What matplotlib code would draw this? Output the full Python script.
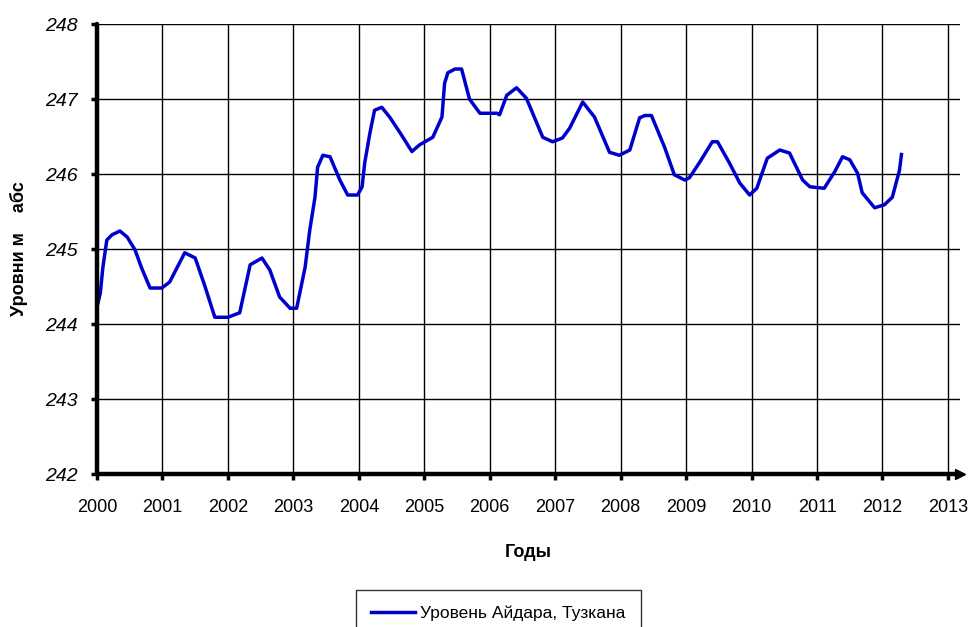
import matplotlib.pyplot as plt

plt.rcParams['font.family'] = ['Liberation Sans', 'DejaVu Sans']

# уровень воды по годам
years = [2000.00, 2000.05, 2000.09, 2000.15, 2000.23, 2000.35, 2000.46, 2000.58,
         2000.68, 2000.81, 2000.99, 2001.11, 2001.34, 2001.50, 2001.65, 2001.80,
         2002.00, 2002.18, 2002.34, 2002.52, 2002.64, 2002.79, 2002.95, 2003.05,
         2003.18, 2003.25, 2003.33, 2003.37, 2003.45, 2003.56, 2003.71, 2003.83,
         2003.98, 2004.05, 2004.09, 2004.17, 2004.24, 2004.35, 2004.47, 2004.63,
         2004.81, 2004.93, 2005.13, 2005.27, 2005.31, 2005.36, 2005.47, 2005.57,
         2005.69, 2005.85, 2006.11, 2006.15, 2006.26, 2006.41, 2006.56, 2006.81,
         2006.96, 2007.11, 2007.22, 2007.42, 2007.60, 2007.83, 2007.98, 2008.14,
         2008.29, 2008.37, 2008.47, 2008.67, 2008.82, 2008.98, 2009.05, 2009.21,
         2009.40, 2009.48, 2009.66, 2009.82, 2009.97, 2010.08, 2010.24, 2010.43,
         2010.58, 2010.78, 2010.89, 2011.11, 2011.27, 2011.39, 2011.50, 2011.62,
         2011.69, 2011.88, 2012.03, 2012.15, 2012.26, 2012.29]
levels = [244.23, 244.41, 244.76, 245.12, 245.19, 245.24, 245.16, 244.99,
          244.75, 244.48, 244.48, 244.56, 244.95, 244.88, 244.50, 244.09,
          244.09, 244.15, 244.79, 244.88, 244.72, 244.36, 244.21, 244.21,
          244.76, 245.25, 245.69, 246.09, 246.25, 246.23, 245.92, 245.72,
          245.72, 245.83, 246.15, 246.55, 246.85, 246.89, 246.76, 246.55,
          246.30, 246.39, 246.49, 246.76, 247.21, 247.35, 247.40, 247.40,
          247.00, 246.81, 246.81, 246.79, 247.05, 247.15, 247.01, 246.49,
          246.43, 246.48, 246.61, 246.96, 246.76, 246.29, 246.25, 246.32,
          246.75, 246.78, 246.78, 246.36, 245.99, 245.92, 245.95, 246.16,
          246.43, 246.43, 246.15, 245.88, 245.72, 245.81, 246.21, 246.32,
          246.28, 245.92, 245.83, 245.81, 246.03, 246.23, 246.19, 246.01,
          245.75, 245.55, 245.59, 245.69, 246.05, 246.26]

x_ticks = list(range(2000, 2014))
y_ticks = list(range(242, 249))

fig = plt.figure(figsize=(9.77, 6.27), dpi=100)
ax = fig.add_axes([0.0993, 0.244, 0.883, 0.7177])

line, = ax.plot(years, levels, color='#0000CC', linewidth=2.5,
                label='Уровень Айдара, Тузкана', solid_joinstyle='round')

ax.set_xlim(2000, 2013.18)
ax.set_ylim(242, 248)
ax.set_xticks(x_ticks)
ax.set_yticks(y_ticks)
ax.grid(True, color='black', linewidth=1.0)
ax.set_axisbelow(True)

for s in ['top', 'right']:
    ax.spines[s].set_visible(False)
for s in ['left', 'bottom']:
    ax.spines[s].set_linewidth(3.2)
    ax.spines[s].set_capstyle('round')

ax.tick_params(axis='both', direction='out', length=4, width=2.5, color='black')
ax.tick_params(axis='x', pad=14, labelsize=13)
ax.tick_params(axis='y', pad=10, labelsize=14)
for lab in ax.get_yticklabels():
    lab.set_fontstyle('italic')

# стрелка на конце оси X
ax.plot(1, 0, marker='>', color='black', markersize=7,
        transform=ax.transAxes, clip_on=False)

ax.set_xlabel('Годы', fontsize=13, fontweight='bold', labelpad=20)
ax.set_ylabel('Уровни м    абс', fontsize=13, fontweight='bold', labelpad=12)

leg = fig.legend(handles=[line], loc='upper center', bbox_to_anchor=(0.51, 0.059),
                 borderaxespad=0, fontsize=12.5, frameon=True, fancybox=False,
                 edgecolor='black', handlelength=2.5, borderpad=0.9,
                 handletextpad=0.3)
leg.get_frame().set_linewidth(1.0)

plt.savefig('out.png', dpi=100)
